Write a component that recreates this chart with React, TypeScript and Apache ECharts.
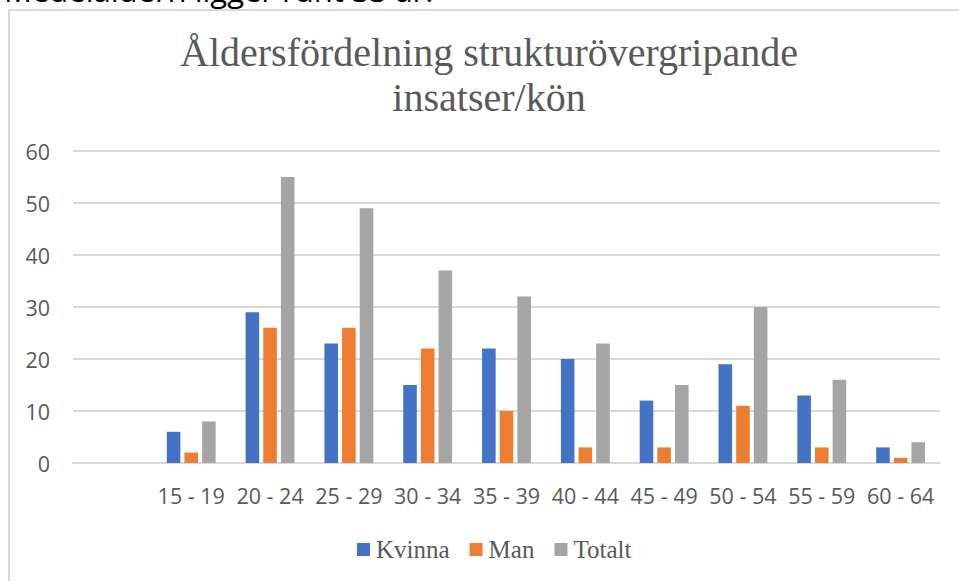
import React, { useEffect, useRef } from "react";
import * as echarts from "echarts";

const categories = ["", "15 - 19", "20 - 24", "25 - 29", "30 - 34", "35 - 39", "40 - 44", "45 - 49", "50 - 54", "55 - 59", "60 - 64"];
const kvinna = [null, 6, 29, 23, 15, 22, 20, 12, 19, 13, 3];
const man = [null, 2, 26, 26, 22, 10, 3, 3, 11, 3, 1];
const totalt = [null, 8, 55, 49, 37, 32, 23, 15, 30, 16, 4];
const seriesNames = ["Kvinna", "Man", "Totalt"];
const yTicks = { min: 0, max: 60, interval: 10 };

const titleLine1 = "Åldersfördelning strukturövergripande";
const titleLine2 = "insatser/kön";
const headerText = "Medelåldern ligger runt 33 år.";

export default function App() {
  const ref = useRef<HTMLDivElement>(null);
  useEffect(() => {
    if (!ref.current) return;
    const chart = echarts.init(ref.current, null, { renderer: "svg" });
    const grey = "#595959";
    chart.setOption({
      animation: false,
      backgroundColor: "#ffffff",
      color: ["#4472C4", "#ED7D31", "#A5A5A5"],
      graphic: [
        {
          type: "rect",
          shape: { x: 9, y: 10, width: 970, height: 590 },
          style: { fill: "none", stroke: "#d9d9d9", lineWidth: 2 },
          silent: true,
        },
        {
          type: "text",
          x: 4,
          y: -10,
          style: {
            text: headerText,
            font: "31px 'Open Sans', sans-serif",
            fill: "#000000",
            textAlign: "left",
            verticalAlign: "middle",
          },
        },
        {
          type: "text",
          x: 489,
          y: 52,
          style: {
            text: titleLine1,
            font: "40px 'Liberation Serif', serif",
            fill: grey,
            textAlign: "center",
            verticalAlign: "middle",
          },
        },
        {
          type: "text",
          x: 489,
          y: 97,
          style: {
            text: titleLine2,
            font: "40px 'Liberation Serif', serif",
            fill: grey,
            textAlign: "center",
            verticalAlign: "middle",
          },
        },
      ],
      legend: {
        data: seriesNames,
        left: 357,
        top: 537,
        padding: 0,
        icon: "rect",
        itemWidth: 13,
        itemHeight: 13,
        itemGap: 20,
        textStyle: {
          fontFamily: "'Liberation Serif', serif",
          fontSize: 25,
          color: grey,
          padding: [0, 0, 0, 1],
        },
      },
      grid: { left: 73, right: 19, top: 151, bottom: 118, containLabel: false },
      xAxis: {
        type: "category",
        data: categories,
        axisLine: { lineStyle: { color: "#d9d9d9", width: 2 } },
        axisTick: { show: false },
        axisLabel: {
          color: grey,
          fontFamily: "'Open Sans', sans-serif",
          fontSize: 21.5,
          margin: 21,
          interval: 0,
        },
      },
      yAxis: {
        type: "value",
        min: yTicks.min,
        max: yTicks.max,
        interval: yTicks.interval,
        axisLine: { show: false },
        axisTick: { show: false },
        splitLine: { lineStyle: { color: "#d9d9d9", width: 2 } },
        axisLabel: {
          color: grey,
          fontFamily: "'Open Sans', sans-serif",
          fontSize: 21.5,
          margin: 23,
        },
      },
      series: [
        { name: seriesNames[0], type: "bar", data: kvinna, barGap: "30%", barCategoryGap: "38%" },
        { name: seriesNames[1], type: "bar", data: man, barGap: "30%", barCategoryGap: "38%" },
        { name: seriesNames[2], type: "bar", data: totalt, barGap: "30%", barCategoryGap: "38%" },
      ],
    });
    return () => chart.dispose();
  }, []);
  return (
    <div
      ref={ref}
      style={{ position: "absolute", left: 0, top: 0, width: 959, height: 581 }}
    />
  );
}
